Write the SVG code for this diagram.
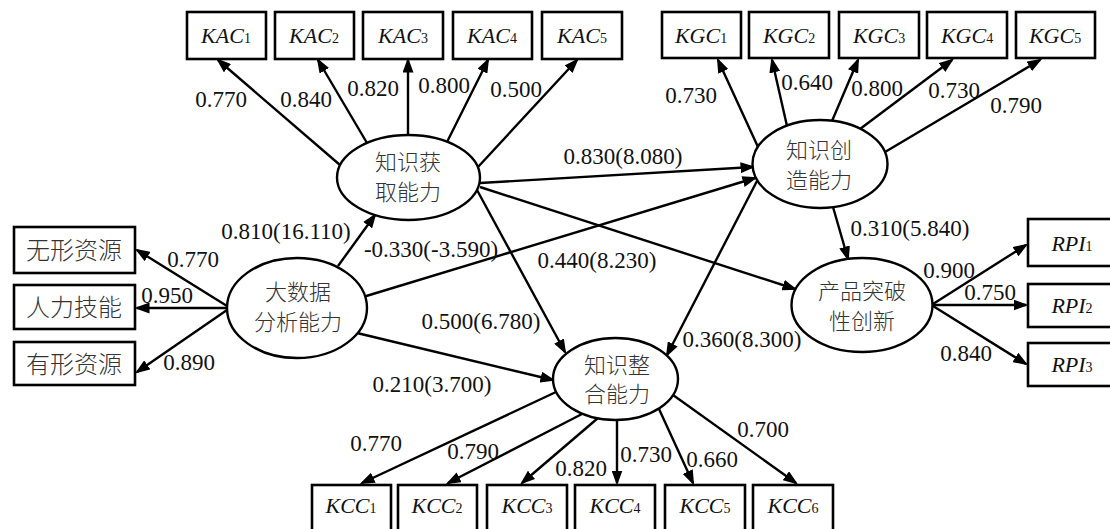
<svg xmlns="http://www.w3.org/2000/svg" width="1110" height="529" viewBox="0 0 1110 529">
  <defs>
    <style>
      .box { fill: #fff; stroke: #000; stroke-width: 2.6; }
      .lat { fill: #fff; stroke: #000; stroke-width: 2.4; }
      .ln { stroke: #000; stroke-width: 2.4; fill: none; marker-end: url(#ah); }
      .num { font-family: "Times New Roman", Times, "Liberation Serif", Tinos, "Noto Serif", "DejaVu Serif", serif; font-size: 23px; fill: #111; text-anchor: middle; }
      .ind { font-family: "Times New Roman", Times, "Liberation Serif", Tinos, "Noto Serif", "DejaVu Serif", serif; font-size: 22px; font-style: italic; fill: #111; text-anchor: middle; }
      .sub { font-size: 14px; font-style: normal; }
      .zh { font-family: "Noto Sans CJK SC", "Noto Sans", sans-serif; font-size: 22px; fill: #333; text-anchor: middle; font-weight: 300; }
      .zhb { font-family: "Noto Sans CJK SC", "Noto Sans", sans-serif; font-size: 24px; fill: #333; text-anchor: middle; font-weight: 300; }
    </style>
    <marker id="ah" markerUnits="userSpaceOnUse" markerWidth="15" markerHeight="11" refX="12.5" refY="5.5" orient="auto">
      <path d="M0,0 L15,5.5 L0,11 Z" fill="#000"/>
    </marker>
  </defs>

  <rect width="1110" height="529" fill="#fff"/>

  <!-- connectors -->
  <g id="connectors">
    <!-- knowledge acquisition -> indicators -->
    <line class="ln" x1="340" y1="165" x2="218" y2="60"/>
    <line class="ln" x1="367" y1="143" x2="318" y2="60"/>
    <line class="ln" x1="408" y1="135" x2="408" y2="60"/>
    <line class="ln" x1="447" y1="142" x2="488" y2="60"/>
    <line class="ln" x1="478" y1="167" x2="577" y2="60"/>
    <!-- knowledge creation -> indicators -->
    <line class="ln" x1="758" y1="147" x2="718" y2="60"/>
    <line class="ln" x1="787" y1="126" x2="772" y2="60"/>
    <line class="ln" x1="832" y1="121" x2="858" y2="60"/>
    <line class="ln" x1="860" y1="129" x2="952" y2="60"/>
    <line class="ln" x1="885" y1="152" x2="1040" y2="60"/>
    <!-- big data capability -> indicators -->
    <line class="ln" x1="227" y1="306" x2="137" y2="250"/>
    <line class="ln" x1="227" y1="308" x2="137" y2="308"/>
    <line class="ln" x1="227" y1="310" x2="137" y2="372"/>
    <!-- product innovation -> indicators -->
    <line class="ln" x1="933" y1="304" x2="1026" y2="245"/>
    <line class="ln" x1="933" y1="305" x2="1026" y2="305"/>
    <line class="ln" x1="933" y1="306" x2="1026" y2="364"/>
    <!-- knowledge integration -> indicators -->
    <line class="ln" x1="556" y1="392" x2="362" y2="483"/>
    <line class="ln" x1="582" y1="414" x2="448" y2="483"/>
    <line class="ln" x1="598" y1="418" x2="522" y2="483"/>
    <line class="ln" x1="617" y1="420" x2="617" y2="483"/>
    <line class="ln" x1="659" y1="409" x2="693" y2="483"/>
    <line class="ln" x1="673" y1="395" x2="796" y2="483"/>
    <!-- structural paths -->
    <line class="ln" x1="338" y1="266" x2="375" y2="215"/>
    <line class="ln" x1="363" y1="297" x2="755" y2="178"/>
    <line class="ln" x1="357" y1="333" x2="553" y2="380"/>
    <line class="ln" x1="480" y1="183" x2="753" y2="167"/>
    <line class="ln" x1="480" y1="187" x2="795" y2="289"/>
    <line class="ln" x1="477" y1="190" x2="565" y2="352"/>
    <line class="ln" x1="757" y1="181" x2="667" y2="355"/>
    <line class="ln" x1="833" y1="207" x2="848" y2="259"/>
  </g>

  <!-- loadings and path coefficients -->
  <g id="labels">
    <text class="num" x="221" y="107">0.770</text>
    <text class="num" x="306" y="107">0.840</text>
    <text class="num" x="373" y="96">0.820</text>
    <text class="num" x="444" y="93">0.800</text>
    <text class="num" x="516" y="97">0.500</text>

    <text class="num" x="691" y="103">0.730</text>
    <text class="num" x="807" y="90">0.640</text>
    <text class="num" x="877" y="96">0.800</text>
    <text class="num" x="954" y="98">0.730</text>
    <text class="num" x="1016" y="113">0.790</text>

    <text class="num" x="193" y="267">0.770</text>
    <text class="num" x="167" y="303">0.950</text>
    <text class="num" x="189" y="370">0.890</text>

    <text class="num" x="949" y="278">0.900</text>
    <text class="num" x="990" y="300">0.750</text>
    <text class="num" x="966" y="361">0.840</text>

    <text class="num" x="376" y="451">0.770</text>
    <text class="num" x="473" y="459">0.790</text>
    <text class="num" x="581" y="476">0.820</text>
    <text class="num" x="646" y="462">0.730</text>
    <text class="num" x="712" y="467">0.660</text>
    <text class="num" x="763" y="437">0.700</text>

    <text class="num" x="286" y="239">0.810(16.110)</text>
    <text class="num" x="623" y="164">0.830(8.080)</text>
    <text class="num" x="431" y="257">-0.330(-3.590)</text>
    <text class="num" x="597" y="268">0.440(8.230)</text>
    <text class="num" x="481" y="329">0.500(6.780)</text>
    <text class="num" x="432" y="392">0.210(3.700)</text>
    <text class="num" x="742" y="347">0.360(8.300)</text>
    <text class="num" x="910" y="236">0.310(5.840)</text>
  </g>

  <!-- latent constructs -->
  <g id="big-data">
    <ellipse class="lat" cx="297" cy="308" rx="70" ry="50"/>
    <text class="zh" x="298" y="300">大数据</text>
    <text class="zh" x="298" y="330">分析能力</text>
  </g>
  <g id="knowledge-acquisition">
    <ellipse class="lat" cx="408.5" cy="177.5" rx="71.5" ry="42.5"/>
    <text class="zh" x="408" y="170">知识获</text>
    <text class="zh" x="408" y="200">取能力</text>
  </g>
  <g id="knowledge-creation">
    <ellipse class="lat" cx="820" cy="164" rx="67.5" ry="44"/>
    <text class="zh" x="819" y="158">知识创</text>
    <text class="zh" x="819" y="188">造能力</text>
  </g>
  <g id="knowledge-integration">
    <ellipse class="lat" cx="615.5" cy="379" rx="62.5" ry="41"/>
    <text class="zh" x="617" y="373">知识整</text>
    <text class="zh" x="617" y="402">合能力</text>
  </g>
  <g id="product-innovation">
    <ellipse class="lat" cx="862" cy="305" rx="70.5" ry="47"/>
    <text class="zh" x="862" y="299">产品突破</text>
    <text class="zh" x="862" y="329">性创新</text>
  </g>

  <!-- indicator boxes: knowledge acquisition -->
  <g id="KAC1"><rect class="box" x="187" y="12" width="79" height="47"/><text class="ind" x="226" y="43">KAC<tspan class="sub">1</tspan></text></g>
  <g id="KAC2"><rect class="box" x="275" y="12" width="79" height="47"/><text class="ind" x="314" y="43">KAC<tspan class="sub">2</tspan></text></g>
  <g id="KAC3"><rect class="box" x="363" y="12" width="80" height="47"/><text class="ind" x="403" y="43">KAC<tspan class="sub">3</tspan></text></g>
  <g id="KAC4"><rect class="box" x="453" y="12" width="79" height="47"/><text class="ind" x="492" y="43">KAC<tspan class="sub">4</tspan></text></g>
  <g id="KAC5"><rect class="box" x="542" y="12" width="80" height="47"/><text class="ind" x="582" y="43">KAC<tspan class="sub">5</tspan></text></g>

  <!-- indicator boxes: knowledge creation -->
  <g id="KGC1"><rect class="box" x="662" y="12" width="79" height="46"/><text class="ind" x="701" y="43">KGC<tspan class="sub">1</tspan></text></g>
  <g id="KGC2"><rect class="box" x="749" y="12" width="80" height="46"/><text class="ind" x="789" y="43">KGC<tspan class="sub">2</tspan></text></g>
  <g id="KGC3"><rect class="box" x="839" y="12" width="80" height="46"/><text class="ind" x="879" y="43">KGC<tspan class="sub">3</tspan></text></g>
  <g id="KGC4"><rect class="box" x="927" y="12" width="80" height="46"/><text class="ind" x="967" y="43">KGC<tspan class="sub">4</tspan></text></g>
  <g id="KGC5"><rect class="box" x="1016" y="12" width="79" height="46"/><text class="ind" x="1055" y="43">KGC<tspan class="sub">5</tspan></text></g>

  <!-- indicator boxes: big data capability -->
  <g id="intangible"><rect class="box" x="14" y="227" width="121" height="46"/><text class="zhb" x="74" y="259">无形资源</text></g>
  <g id="human-skill"><rect class="box" x="14" y="285" width="121" height="44"/><text class="zhb" x="74" y="316">人力技能</text></g>
  <g id="tangible"><rect class="box" x="14" y="342" width="121" height="43"/><text class="zhb" x="74" y="373">有形资源</text></g>

  <!-- indicator boxes: product innovation -->
  <g id="RPI1"><rect class="box" x="1028" y="219" width="90" height="47"/><text class="ind" x="1072" y="251">RPI<tspan class="sub">1</tspan></text></g>
  <g id="RPI2"><rect class="box" x="1028" y="284" width="90" height="43"/><text class="ind" x="1072" y="313">RPI<tspan class="sub">2</tspan></text></g>
  <g id="RPI3"><rect class="box" x="1028" y="343" width="90" height="43"/><text class="ind" x="1072" y="372">RPI<tspan class="sub">3</tspan></text></g>

  <!-- indicator boxes: knowledge integration -->
  <g id="KCC1"><rect class="box" x="312" y="485" width="79" height="47"/><text class="ind" x="351" y="513">KCC<tspan class="sub">1</tspan></text></g>
  <g id="KCC2"><rect class="box" x="398" y="485" width="79" height="47"/><text class="ind" x="437" y="513">KCC<tspan class="sub">2</tspan></text></g>
  <g id="KCC3"><rect class="box" x="487" y="485" width="80" height="47"/><text class="ind" x="527" y="513">KCC<tspan class="sub">3</tspan></text></g>
  <g id="KCC4"><rect class="box" x="575" y="485" width="80" height="47"/><text class="ind" x="615" y="513">KCC<tspan class="sub">4</tspan></text></g>
  <g id="KCC5"><rect class="box" x="665" y="485" width="80" height="47"/><text class="ind" x="705" y="513">KCC<tspan class="sub">5</tspan></text></g>
  <g id="KCC6"><rect class="box" x="753" y="485" width="80" height="47"/><text class="ind" x="793" y="513">KCC<tspan class="sub">6</tspan></text></g>
</svg>
